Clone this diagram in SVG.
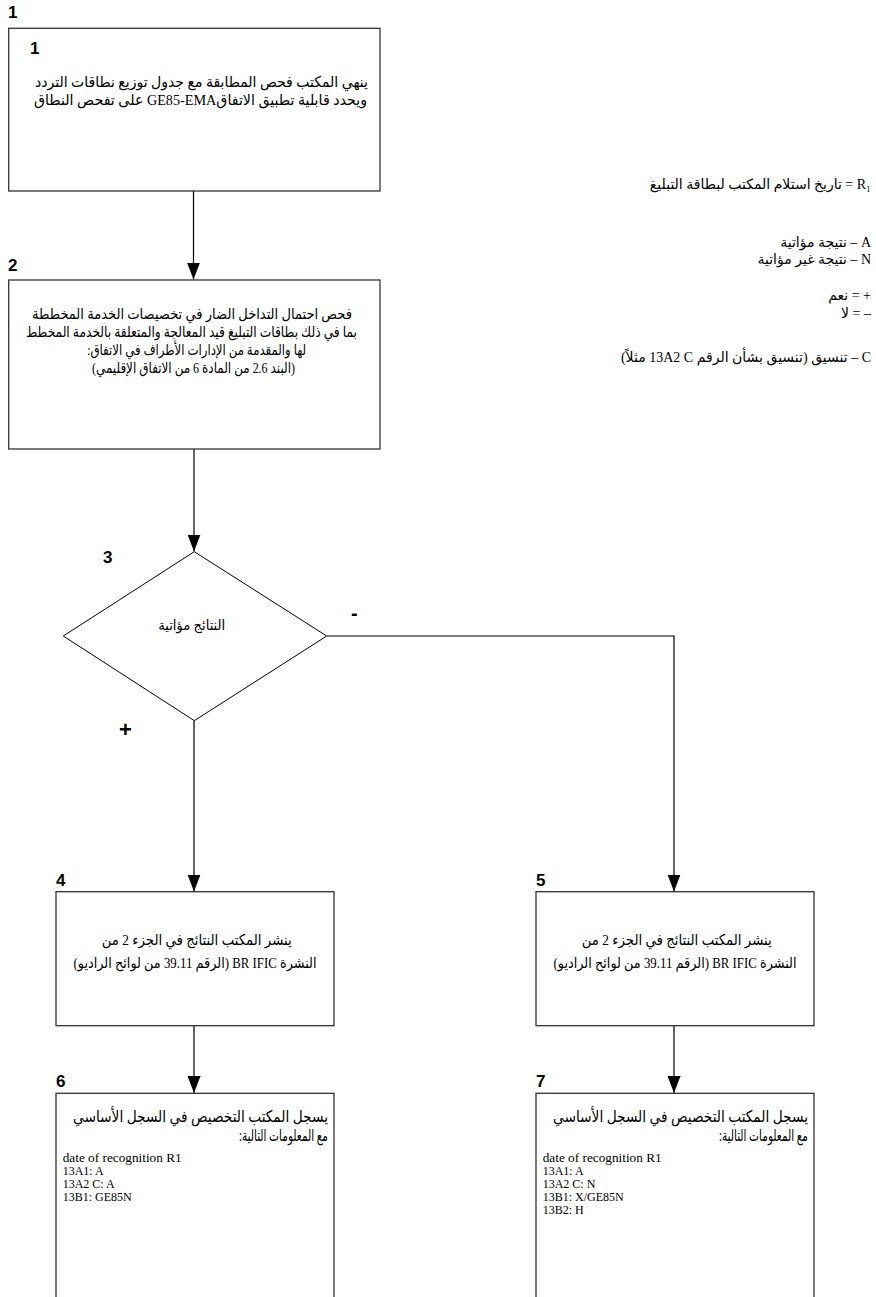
<svg xmlns="http://www.w3.org/2000/svg" width="876" height="1297" viewBox="0 0 876 1297">
<style>
.box{fill:#fff;stroke:#333;stroke-width:1.3}
.dia{fill:#fff;stroke:#000;stroke-width:1}
.num{font-family:"Liberation Sans",Arial,sans-serif;font-weight:bold;font-size:17px;fill:#000}
.ar{font-family:"Liberation Serif","DejaVu Sans",serif;font-size:15px;fill:#000;direction:rtl;unicode-bidi:embed}
.lg{font-size:14px}
.en{font-family:"Liberation Serif",serif;font-size:12px;fill:#000}
.con{fill:none;stroke:#000;stroke-width:1.2}
</style>
<defs>
<marker id="ah" markerUnits="userSpaceOnUse" viewBox="0 -7 17 14" markerWidth="17" markerHeight="14" refX="17" refY="0" orient="auto">
<path d="M0,-6.5 L17,0 L0,6.5 z" fill="#000"/>
</marker>
</defs>
<g id="connectors">
<path class="con" d="M193.5,191 V279.5" marker-end="url(#ah)"/>
<path class="con" d="M194,449 V551.5" marker-end="url(#ah)"/>
<path class="con" d="M194,720.7 V891.5" marker-end="url(#ah)"/>
<path class="con" d="M326.7,636 H674 V891.5" marker-end="url(#ah)"/>
<path class="con" d="M194,1025.7 V1093" marker-end="url(#ah)"/>
<path class="con" d="M674,1025.7 V1093" marker-end="url(#ah)"/>
</g>
<g id="node1">
<text class="num" x="8" y="18">1</text>
<rect class="box" x="8.7" y="28.3" width="371.3" height="162.7"/>
<text class="num" x="30" y="54">1</text>
<text class="ar" x="368" y="87" text-anchor="start" textLength="333" lengthAdjust="spacingAndGlyphs">ينهي المكتب فحص المطابقة مع جدول توزيع نطاقات التردد</text>
<text class="ar" x="367" y="105" text-anchor="start" textLength="333" lengthAdjust="spacingAndGlyphs">ويحدد قابلية تطبيق الاتفاقGE85-EMA على تفحص النطاق</text>
</g>
<g id="node2">
<text class="num" x="8" y="271">2</text>
<rect class="box" x="8.7" y="280" width="371.3" height="169"/>
<text class="ar" x="192" y="319" text-anchor="middle" textLength="320" lengthAdjust="spacingAndGlyphs">فحص احتمال التداخل الضار في تخصيصات الخدمة المخططة</text>
<text class="ar" x="191.5" y="337" text-anchor="middle" textLength="331" lengthAdjust="spacingAndGlyphs">بما في ذلك بطاقات التبليغ قيد المعالجة والمتعلقة بالخدمة المخطط</text>
<text class="ar" x="196.7" y="355" text-anchor="middle" textLength="219" lengthAdjust="spacingAndGlyphs">لها والمقدمة من الإدارات الأطراف في الاتفاق:</text>
<text class="ar" x="193.5" y="373" text-anchor="middle" textLength="203" lengthAdjust="spacingAndGlyphs">(البند 2.6 من المادة 6 من الاتفاق الإقليمي)</text>
</g>
<g id="node3">
<text class="num" x="103" y="563">3</text>
<polygon class="dia" points="194.3,551.7 326.7,636 194.3,720.7 63.3,636"/>
<text class="ar lg" x="191.7" y="630" text-anchor="middle" textLength="67" lengthAdjust="spacingAndGlyphs">النتائج مؤاتية</text>
<text class="num" x="351" y="620" style="font-size:20px">-</text>
<text class="num" x="119" y="737" style="font-size:22px">+</text>
</g>
<g id="node4">
<text class="num" x="56" y="886">4</text>
<rect class="box" x="56" y="891.7" width="278" height="134"/>
<text class="ar" x="196.7" y="945" text-anchor="middle" textLength="190" lengthAdjust="spacingAndGlyphs">ينشر المكتب النتائج في الجزء 2 من</text>
<text class="ar" x="195" y="968" text-anchor="middle" textLength="243" lengthAdjust="spacingAndGlyphs">النشرة BR IFIC (الرقم 39.11 من لوائح الراديو)</text>
</g>
<g id="node5">
<text class="num" x="536" y="886">5</text>
<rect class="box" x="536" y="891.7" width="278" height="134"/>
<text class="ar" x="676.7" y="945" text-anchor="middle" textLength="190" lengthAdjust="spacingAndGlyphs">ينشر المكتب النتائج في الجزء 2 من</text>
<text class="ar" x="675" y="968" text-anchor="middle" textLength="243" lengthAdjust="spacingAndGlyphs">النشرة BR IFIC (الرقم 39.11 من لوائح الراديو)</text>
</g>
<g id="node6">
<text class="num" x="56" y="1087">6</text>
<rect class="box" x="56" y="1093.3" width="278" height="220"/>
<text class="ar" x="328" y="1122" text-anchor="start" style="font-size:16px" textLength="255" lengthAdjust="spacingAndGlyphs">يسجل المكتب التخصيص في السجل الأساسي</text>
<text class="ar" x="328" y="1141" text-anchor="start" style="font-size:16px" textLength="89" lengthAdjust="spacingAndGlyphs">مع المعلومات التالية:</text>
<text class="en" x="62.7" y="1162" textLength="119" lengthAdjust="spacingAndGlyphs">date of recognition R1</text>
<text class="en" x="62.7" y="1175">13A1: A</text>
<text class="en" x="62.7" y="1188">13A2 C: A</text>
<text class="en" x="62.7" y="1201">13B1: GE85N</text>
</g>
<g id="node7">
<text class="num" x="536" y="1087">7</text>
<rect class="box" x="536" y="1093.3" width="278" height="220"/>
<text class="ar" x="808" y="1122" text-anchor="start" style="font-size:16px" textLength="255" lengthAdjust="spacingAndGlyphs">يسجل المكتب التخصيص في السجل الأساسي</text>
<text class="ar" x="808" y="1141" text-anchor="start" style="font-size:16px" textLength="89" lengthAdjust="spacingAndGlyphs">مع المعلومات التالية:</text>
<text class="en" x="542.7" y="1162" textLength="119" lengthAdjust="spacingAndGlyphs">date of recognition R1</text>
<text class="en" x="542.7" y="1175">13A1: A</text>
<text class="en" x="542.7" y="1188">13A2 C: N</text>
<text class="en" x="542.7" y="1201">13B1: X/GE85N</text>
<text class="en" x="542.7" y="1214">13B2: H</text>
</g>
<g id="legend">
<text class="ar lg" x="871" y="189" text-anchor="start">R₁ = تاريخ استلام المكتب لبطاقة التبليغ</text>
<text class="ar lg" x="871" y="247" text-anchor="start">A – نتيجة مؤاتية</text>
<text class="ar lg" x="871" y="264" text-anchor="start">N – نتيجة غير مؤاتية</text>
<text class="ar lg" x="871" y="300" text-anchor="start">+ = نعم</text>
<text class="ar lg" x="871" y="318" text-anchor="start">– = لا</text>
<text class="ar lg" x="871" y="362" text-anchor="start">C – تنسيق (تنسيق بشأن الرقم 13A2 C مثلاً)</text>
</g>
</svg>
